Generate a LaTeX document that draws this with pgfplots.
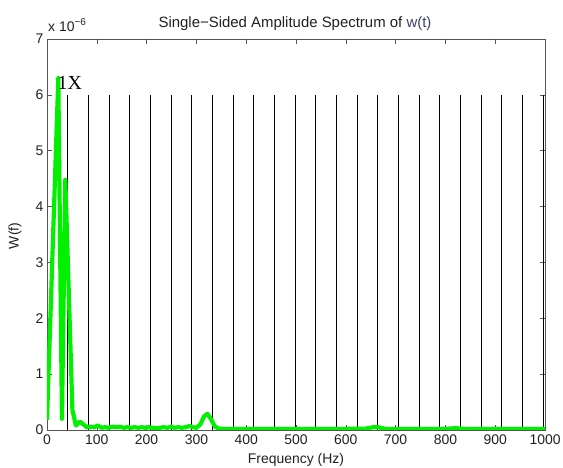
\documentclass[border=0pt]{standalone}
\usepackage{fontspec}
\setmainfont{Liberation Sans}
\newfontfamily\serifx{Liberation Serif}
\usepackage{pgfplots}
\pgfplotsset{compat=1.18}
\definecolor{axgray}{HTML}{555555}
\definecolor{txtgray}{HTML}{202020}
\definecolor{wtcol}{HTML}{3C3F6A}
\definecolor{specgreen}{HTML}{00F000}
\begin{document}
\begin{tikzpicture}[x=1bp,y=1bp]
\path[use as bounding box] (-47,-38) rectangle (516,430);
\begin{axis}[
  at={(0,0)}, anchor=south west,
  scale only axis, width=498bp, height=391bp,
  xmin=0, xmax=1000, ymin=0, ymax=7,
  xtick={0,100,...,1000}, ytick={0,1,...,7},
  tick align=inside, major tick length=5bp,
  axis line style={axgray, line width=0.6pt},
  tick style={axgray, line width=0.6pt},
  tick label style={font=\fontsize{14}{16}\selectfont, text=txtgray},
  xticklabel style={yshift=-1bp},
  /pgf/number format/assume math mode=true,
  /pgf/number format/1000 sep={},
  clip=true,
]
% harmonic markers at multiples of 41.5 Hz
\addplot[ycomb, black, line width=0.7pt, no marks] coordinates {
(41.5,6)(83,6)(124.5,6)(166,6)(207.5,6)(249,6)(290.5,6)(332,6)
(373.5,6)(415,6)(456.5,6)(498,6)(539.5,6)(581,6)(622.5,6)(664,6)
(705.5,6)(747,6)(788.5,6)(830,6)(871.5,6)(913,6)(954.5,6)(996,6)
};
% spectrum (units of 1e-6)
\addplot[specgreen, line width=4.2pt, no marks, line join=round] coordinates {
(0,0.18)(22.7,6.3)(30,0.2)(36.8,4.48)(51,0.36)(58,0.08)(66,0.15)(73,0.1)
(80,0.05)(88,0.06)(95,0.05)(102,0.08)(110,0.04)(117,0.05)(124,0.04)(132,0.06)
(139,0.05)(146,0.06)(154,0.04)(161,0.05)(168,0.04)(176,0.05)(183,0.04)(190,0.05)
(198,0.04)(205,0.05)(212,0.04)(220,0.03)(227,0.04)(234,0.05)(242,0.04)(249,0.06)
(256,0.04)(264,0.05)(271,0.04)(278,0.05)(286,0.07)(293,0.05)(300,0.04)(308,0.1)
(315,0.24)(322,0.29)(329,0.2)(337,0.06)(344,0.03)(352,0.02)(400,0.02)(500,0.02)
(600,0.02)(640,0.025)(655,0.05)(665,0.05)(680,0.02)(800,0.02)(815,0.03)(825,0.03)
(840,0.02)(1000,0.02)
};
\node[anchor=base west, inner sep=0pt, font=\serifx\fontsize{20}{22}\selectfont]
  at (axis cs:21,6.1) {1X};
\end{axis}
\node[anchor=base west, inner sep=0pt, text=txtgray, font=\fontsize{14}{16}\selectfont]
  at (1,398) {x 10\raisebox{6bp}{\fontsize{10}{11}\selectfont −6}};
\node[anchor=base, inner sep=0pt, text=txtgray, font=\fontsize{15}{17}\selectfont]
  at (248,402) {Single−Sided Amplitude Spectrum of \textcolor{wtcol}{w(t)}};
\node[anchor=base, inner sep=0pt, text=txtgray, font=\fontsize{14}{16}\selectfont]
  at (249,-34) {Frequency (Hz)};
\node[anchor=center, rotate=90, inner sep=0pt, text=txtgray, font=\fontsize{14}{16}\selectfont]
  at (-32,194) {W(f)};
\end{tikzpicture}
\end{document}
